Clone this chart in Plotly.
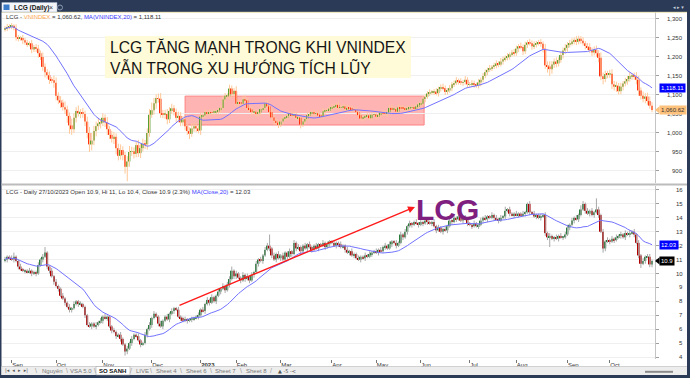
import pandas as pd
import plotly.graph_objects as go

W, H = 690, 378
FONT = "Liberation Sans, Arial, sans-serif"

# ---------------- data ----------------
month_tick_idx = [3, 23, 44, 66, 88, 104, 124, 147, 167, 187, 209, 230, 253, 272]
month_tick_txt = ["Sep", "Oct", "Nov", "Dec", "<b>2023</b>", "Feb", "Mar", "Apr",
                  "May", "Jun", "Jul", "Aug", "Sep", "Oct"]

vn_ticks = [900, 950, 1000, 1050, 1100, 1150, 1200, 1250, 1300]
lcg_ticks = [4, 5, 6, 7, 8, 9, 10, 11, 12, 13, 14, 15, 16]

vn_first_open = 1272
vn_close = [
    # Aug 2022
    1275, 1279, 1281,
    # Sep
    1282, 1276, 1252, 1248, 1250, 1244, 1238, 1234, 1236, 1220,
    1226, 1222, 1210, 1200, 1174, 1160, 1152, 1140, 1139, 1132,
    # Oct
    1098, 1086, 1080, 1068, 1062, 1045, 1020, 1010, 1040, 1058,
    1052, 1055, 1050, 1030, 1000, 970, 980, 1005, 1018, 1025, 1027,
    # Nov
    1040, 1028, 1010, 995, 985, 990, 960, 940, 955, 942, 911,
    925, 950, 952, 945, 968, 947, 960, 972, 970, 1000, 1048,
    # Dec
    1060, 1078, 1092, 1090, 1052, 1048, 1050, 1036, 1058, 1065, 1055,
    1040, 1045, 1028, 1036, 1018, 1005, 998, 1012, 1018, 1012, 1007,
    # Jan 2023
    1043, 1046, 1055, 1051, 1054, 1053, 1056, 1056,
    1060, 1066, 1088, 1098, 1098, 1117, 1102, 1111,
    # Feb
    1077, 1080, 1077, 1089, 1086, 1066, 1062, 1055, 1056, 1050,
    1054, 1063, 1066, 1078, 1070, 1055, 1041, 1032, 1027, 1022,
    # Mar
    1030, 1038, 1040, 1045, 1051, 1045, 1049, 1040, 1040, 1022, 1030, 1037,
    1047, 1050, 1053, 1050, 1052, 1046, 1044, 1057, 1059, 1060, 1064,
    # Apr
    1067, 1070, 1074, 1066, 1068, 1070, 1063, 1066, 1064, 1062,
    1061, 1055, 1047, 1038, 1040, 1045, 1046, 1039, 1048, 1049,
    # May
    1043, 1047, 1053, 1052, 1050, 1055, 1066, 1063, 1063, 1056,
    1067, 1066, 1065, 1062, 1065, 1066, 1068, 1065, 1070, 1075,
    # Jun
    1077, 1090, 1095, 1104, 1107, 1108, 1109, 1105, 1116, 1120, 1118,
    1108, 1112, 1118, 1128, 1131, 1138, 1136, 1132, 1134, 1140, 1128,
    # Jul
    1128, 1131, 1128, 1125, 1133, 1140, 1150, 1160, 1166, 1170, 1174,
    1178, 1183, 1180, 1188, 1194, 1198, 1202, 1207, 1212, 1210,
    # Aug
    1222, 1228, 1226, 1215, 1232, 1238, 1236, 1228, 1233, 1236, 1238, 1235,
    1222, 1178, 1175, 1168, 1180, 1188, 1183, 1192, 1205, 1217, 1224,
    # Sep
    1232, 1236, 1241, 1245, 1240, 1248, 1243, 1236, 1229, 1226,
    1218, 1212, 1219, 1210, 1198, 1149, 1142, 1155, 1154,
    # Oct
    1156, 1128, 1122, 1124, 1110, 1122, 1130, 1136, 1142, 1150,
    1150, 1148, 1140, 1112, 1098, 1090, 1096, 1084, 1072, 1060.62,
]
vn_wick_up = [
    6, 8, 5, 7, 4, 10, 6, 5, 8, 6,
    7, 5, 9, 6, 8, 10, 7, 12, 9, 8,
    10, 7, 12, 14, 9, 11, 8, 15, 10, 9,
    18, 12, 10, 14, 8, 11, 9, 13, 16, 20,
    14, 12, 15, 10, 12, 9, 14, 8, 11, 13,
    9, 12, 15, 10, 8, 14, 16, 12, 10, 9,
    14, 11, 13, 10, 12, 15, 20, 14, 10, 12,
    15, 9, 11, 13, 10, 12, 8, 9, 11, 10,
    9, 12, 8, 10, 14, 9, 8, 7, 10, 6,
    7, 5, 8, 6, 7, 5, 6, 8, 9, 7,
    6, 10, 8, 7, 12, 9, 6, 8, 10, 7,
    6, 8, 5, 7, 6, 9, 8, 6, 10, 7,
    9, 8, 6, 7, 8, 10, 6, 7, 5, 8,
    6, 7, 9, 5, 8, 6, 7, 5, 6, 8,
    5, 7, 6, 8, 5, 6, 7, 9, 6, 5,
    8, 6, 7, 5, 9, 6, 8, 5, 7, 6,
    6, 8, 5, 7, 6, 5, 8, 6, 7, 5,
    6, 8, 5, 7, 9, 6, 5, 8, 6, 7,
    5, 7, 6, 8, 5, 7, 6, 9, 8, 7,
    6, 8, 5, 7, 9, 6, 8, 10, 7, 6,
    8, 6, 7, 9, 5, 8, 6, 10, 7, 6,
    8, 7, 5, 9, 6, 8, 7, 6, 9, 5,
    7, 8, 6, 9, 7, 6, 8, 5, 7, 9,
    8, 6, 10, 7, 8, 6, 9, 7, 8, 6,
    7, 9, 6, 12, 10, 14, 9, 8, 11, 7,
    9, 8, 10, 7, 9, 8, 6, 10, 8, 7,
    9, 6, 8, 10, 7, 9, 11, 8, 14, 10,
    9, 8, 10, 12, 9, 11, 8, 10, 7, 9,
    8, 10, 7, 9, 12, 10, 8, 11, 9, 10,
    12, 9,
]
vn_wick_dn = [
    5, 7, 6, 8, 6, 9, 7, 5, 10, 6,
    8, 6, 10, 7, 9, 12, 8, 10, 14, 9,
    11, 8, 13, 12, 10, 14, 9, 12, 18, 22,
    15, 10, 12, 9, 13, 10, 12, 14, 20, 16,
    12, 14, 10, 13, 9, 12, 15, 11, 10, 14,
    16, 12, 10, 14, 18, 38, 14, 10, 12, 9,
    10, 13, 9, 12, 14, 10, 8, 12, 14, 10,
    12, 9, 11, 13, 10, 8, 9, 11, 12, 10,
    9, 11, 10, 14, 8, 9, 10, 8, 12, 6,
    7, 6, 5, 7, 6, 8, 5, 7, 6, 8,
    7, 9, 10, 8, 6, 9, 7, 6, 8, 7,
    6, 9, 7, 8, 6, 7, 5, 8, 7, 9,
    8, 10, 7, 9, 6, 8, 7, 6, 8, 5,
    7, 6, 8, 10, 6, 7, 5, 8, 6, 7,
    6, 5, 7, 6, 8, 5, 6, 7, 5, 8,
    6, 7, 5, 8, 6, 7, 9, 6, 8, 7,
    5, 7, 6, 8, 5, 7, 6, 8, 5, 6,
    7, 5, 8, 6, 7, 5, 6, 7, 8, 5,
    7, 6, 8, 5, 7, 6, 8, 6, 7, 9,
    5, 7, 6, 8, 6, 9, 7, 6, 8, 7,
    6, 8, 7, 5, 9, 6, 8, 7, 10, 6,
    7, 9, 6, 8, 10, 7, 6, 8, 5, 7,
    6, 8, 7, 5, 8, 6, 7, 9, 6, 8,
    7, 9, 6, 10, 7, 8, 6, 9, 7, 8,
    6, 8, 10, 9, 16, 18, 12, 9, 10, 8,
    7, 9, 8, 10, 7, 6, 8, 9, 7, 8,
    6, 9, 8, 7, 10, 8, 9, 12, 10, 14,
    8, 10, 9, 12, 10, 14, 9, 8, 10, 7,
    9, 7, 10, 8, 12, 14, 10, 9, 12, 10,
    8, 6,
]

lcg_first_open = 10.9
lcg_close = [
    # Aug 2022
    11.0, 11.2, 11.1,
    # Sep
    11.0, 11.2, 10.9, 10.5, 10.3, 10.2, 10.2, 10.1, 10.2, 10.0,
    10.1, 10.0, 10.6, 11.0, 11.2, 11.5, 10.5, 10.2, 9.8, 9.4,
    # Oct
    9.1, 8.9, 8.4, 8.2, 7.9, 7.6, 7.4, 7.5, 7.8, 8.0,
    7.8, 7.8, 7.6, 7.0, 6.3, 6.2, 6.4, 6.2, 6.3, 6.5, 6.6,
    # Nov
    6.9, 6.8, 6.9, 6.2, 5.9, 5.8, 5.5, 5.6, 5.3, 4.9, 4.4,
    4.6, 5.0, 5.3, 5.6, 5.5, 5.2, 4.9, 5.0, 5.6, 6.0, 6.3,
    # Dec
    6.8, 7.1, 6.9, 6.4, 6.2, 6.6, 6.9, 6.7, 7.1, 7.3, 7.5,
    7.4, 6.9, 6.8, 6.6, 6.7, 6.6, 6.7, 6.7, 6.8, 6.9, 7.0,
    # Jan 2023
    7.4, 7.3, 7.8, 8.1, 7.9, 8.3, 8.0, 8.4,
    8.7, 8.9, 9.1, 8.8, 9.2, 9.6, 10.2, 9.8,
    # Feb
    10.0, 9.7, 9.5, 9.9, 9.6, 9.8, 9.5, 9.9, 10.1, 10.7,
    11.0, 10.9, 11.3, 11.7, 12.0, 11.8, 11.3, 11.0, 11.4, 11.1,
    # Mar
    11.3, 11.0, 11.5, 11.2, 11.6, 11.4, 12.2, 11.8, 11.9, 11.6, 12.0, 11.8,
    12.1, 11.9, 11.7, 12.0, 11.8, 12.1, 12.0, 12.2, 11.9, 12.1, 12.3,
    # Apr
    12.2, 12.0, 12.2, 12.1, 11.9, 12.0, 11.7, 11.5, 11.6, 11.3,
    11.4, 11.1, 11.0, 11.2, 11.1, 11.3, 11.2, 11.4, 11.5, 11.6,
    # May
    11.5, 11.7, 11.6, 11.9, 12.0, 11.8, 12.1, 12.3, 12.2, 12.0,
    12.2, 12.8, 12.6, 13.0, 13.4, 13.6, 13.5, 13.7, 13.6, 13.5,
    # Jun
    13.7, 13.6, 13.8, 13.7, 13.6, 13.7, 13.4, 13.1, 13.3, 13.0, 13.2,
    13.1, 13.4, 13.8, 13.7, 14.0, 13.9, 14.1, 13.8, 14.0, 13.9, 13.6,
    # Jul
    13.5, 13.4, 13.6, 13.4, 13.5, 13.8, 14.0, 13.9, 14.1, 14.0, 14.2,
    14.0, 13.9, 13.8, 14.0, 14.1, 14.5, 14.6, 14.3, 14.2, 14.3,
    # Aug
    14.2, 14.3, 14.2, 14.3, 14.4, 15.0, 14.4, 14.3, 14.1, 14.2, 14.0, 14.1,
    14.2, 12.9, 12.6, 12.7, 12.5, 12.6, 12.5, 12.7, 12.6, 12.6, 12.8,
    # Sep
    13.3, 13.5, 13.8, 14.0, 13.9, 14.2, 14.6, 15.0, 14.5, 14.3,
    14.5, 14.2, 14.4, 14.6, 14.2, 13.0, 11.8, 12.3, 12.4,
    # Oct
    12.3, 12.5, 12.4, 12.6, 12.7, 12.8, 12.6, 12.9, 12.8, 12.9,
    13.0, 12.8, 12.2, 11.3, 10.7, 10.9, 11.2, 11.2, 10.65, 10.9,
]
# wick extents in tenths of a price unit
lcg_wick_up = [
    2, 1, 1, 2, 3, 1, 1, 2, 1, 1,
    1, 2, 1, 1, 1, 2, 1, 2, 4, 1,
    1, 2, 1, 2, 1, 1, 2, 1, 1, 2,
    1, 2, 1, 1, 2, 1, 1, 1, 2, 1,
    1, 2, 1, 2, 1, 2, 1, 1, 1, 2,
    1, 1, 2, 1, 1, 2, 1, 2, 1, 1,
    2, 1, 1, 2, 1, 2, 1, 2, 1, 1,
    2, 1, 1, 2, 1, 2, 1, 1, 2, 1,
    1, 2, 1, 1, 2, 1, 1, 2, 1, 2,
    1, 2, 1, 2, 1, 1, 2, 1, 2, 1,
    2, 2, 3, 1, 2, 1, 1, 2, 1, 2,
    1, 2, 1, 2, 1, 2, 1, 2, 2, 8,
    1, 2, 1, 2, 1, 2, 1, 1, 2, 1,
    2, 1, 2, 1, 1, 2, 1, 2, 1, 1,
    2, 1, 1, 2, 1, 2, 1, 1, 2, 1,
    1, 2, 1, 1, 2, 1, 2, 1, 1, 2,
    1, 1, 2, 1, 2, 1, 1, 2, 1, 2,
    1, 2, 1, 2, 1, 1, 2, 1, 2, 1,
    2, 1, 2, 1, 1, 2, 1, 2, 1, 1,
    2, 1, 1, 2, 1, 2, 1, 1, 2, 1,
    2, 1, 2, 1, 1, 2, 1, 2, 1, 1,
    1, 2, 1, 1, 2, 1, 2, 1, 1, 2,
    1, 2, 1, 2, 1, 3, 1, 2, 1, 1,
    2, 1, 1, 2, 1, 1, 2, 1, 2, 1,
    1, 2, 1, 2, 1, 2, 1, 1, 2, 1,
    2, 1, 2, 2, 1, 2, 1, 2, 1, 3,
    2, 1, 2, 1, 2, 1, 8, 2, 1, 2,
    1, 2, 1, 2, 1, 2, 1, 2, 1, 2,
    1, 2, 1, 2, 1, 2, 1, 2, 1, 2,
    2, 1,
]
lcg_wick_dn = [
    1, 2, 1, 1, 2, 1, 2, 1, 1, 2,
    1, 1, 2, 1, 2, 1, 1, 2, 1, 2,
    2, 1, 2, 1, 2, 1, 1, 2, 1, 2,
    2, 1, 1, 2, 1, 1, 2, 1, 1, 2,
    1, 2, 1, 1, 2, 1, 2, 1, 2, 1,
    2, 1, 2, 1, 3, 2, 1, 2, 1, 1,
    1, 2, 1, 1, 2, 1, 2, 1, 1, 2,
    1, 2, 1, 1, 2, 1, 2, 1, 1, 2,
    1, 1, 2, 1, 2, 1, 1, 2, 1, 1,
    2, 1, 2, 1, 1, 2, 1, 2, 1, 2,
    1, 2, 1, 2, 2, 1, 2, 1, 2, 1,
    2, 1, 2, 1, 2, 1, 2, 1, 1, 2,
    2, 1, 2, 1, 2, 1, 1, 2, 1, 2,
    1, 2, 1, 2, 1, 1, 2, 1, 2, 1,
    1, 2, 1, 1, 2, 1, 2, 1, 1, 2,
    2, 1, 1, 2, 1, 2, 1, 2, 1, 1,
    2, 1, 2, 1, 1, 2, 1, 1, 2, 1,
    1, 2, 1, 1, 2, 1, 2, 1, 1, 2,
    1, 2, 1, 2, 1, 1, 2, 1, 2, 1,
    2, 1, 2, 1, 2, 1, 1, 2, 1, 2,
    1, 2, 1, 2, 1, 1, 2, 1, 2, 1,
    2, 1, 1, 2, 1, 2, 1, 2, 1, 1,
    2, 1, 2, 1, 1, 2, 1, 2, 1, 2,
    1, 2, 1, 1, 2, 1, 2, 1, 1, 2,
    1, 2, 1, 2, 2, 7, 1, 2, 1, 2,
    1, 2, 1, 1, 2, 1, 2, 1, 2, 1,
    1, 2, 1, 2, 1, 2, 1, 2, 1, 3,
    2, 1, 2, 1, 2, 1, 1, 2, 1, 2,
    1, 2, 1, 2, 1, 2, 3, 1, 2, 1,
    2, 2,
]

# values printed in the chart headers / price tags
vn_last_close, vn_last_ma = 1060.62, 1118.11
lcg_last_close, lcg_last_ma = 10.9, 12.03

sheet_tabs = ["Nguyên", "VSA 5.0", "SO SANH", "LIVE", "Sheet 4", "Sheet 6", "Sheet 7", "Sheet 8"]

N = len(vn_close)
for arr in (vn_wick_up, vn_wick_dn, lcg_close, lcg_wick_up, lcg_wick_dn):
    assert len(arr) == N, len(arr)

# ---------------- derived ----------------
def ohlc(close, first_open, wup, wdn, unit):
    o = [first_open] + close[:-1]
    hi = [max(a, b) + u * unit for a, b, u in zip(o, close, wup)]
    lo = [min(a, b) - d * unit for a, b, d in zip(o, close, wdn)]
    return o, hi, lo

vn_open, vn_high, vn_low = ohlc(vn_close, vn_first_open, vn_wick_up, vn_wick_dn, 1.0)
lcg_open, lcg_high, lcg_low = ohlc(lcg_close, lcg_first_open, lcg_wick_up, lcg_wick_dn, 0.1)
vn_ma = pd.Series(vn_close).rolling(20, min_periods=1).mean().tolist()
lcg_ma = pd.Series(lcg_close).rolling(20, min_periods=1).mean().tolist()
idx = list(range(N))


def candle(o, hi, lo, c, xa, ya, wick_col, up_col, dn_col, min_body):
    xs, ys = [], []
    for i, (h_, l_) in enumerate(zip(hi, lo)):
        xs += [i, i, None]
        ys += [l_, h_, None]
    wick = go.Scatter(x=xs, y=ys, mode="lines", line=dict(color=wick_col, width=1),
                      xaxis=xa, yaxis=ya, hoverinfo="skip", showlegend=False)
    base, hgt, cols = [], [], []
    for a, b in zip(o, c):
        d = abs(b - a)
        hh = max(d, min_body)
        base.append(min(a, b) - (hh - d) / 2)
        hgt.append(hh)
        cols.append(up_col if b >= a else dn_col)
    body = go.Bar(x=idx, y=hgt, base=base, width=0.8,
                  marker=dict(color=cols, line=dict(width=0)),
                  xaxis=xa, yaxis=ya, hoverinfo="skip", showlegend=False)
    return [wick, body]


fig = go.Figure()
for t in candle(vn_open, vn_high, vn_low, vn_close, "x", "y",
                "#ffc898", "#58a032", "#ff3010", 1.6):
    fig.add_trace(t)
fig.add_trace(go.Scatter(x=idx, y=vn_ma, mode="lines", line=dict(color="#7272ff", width=1),
                         xaxis="x", yaxis="y", hoverinfo="skip", showlegend=False))
for t in candle(lcg_open, lcg_high, lcg_low, lcg_close, "x2", "y2",
                "#a8a8a8", "#2a7d3c", "#b00000", 0.07):
    fig.add_trace(t)
fig.add_trace(go.Scatter(x=idx, y=lcg_ma, mode="lines", line=dict(color="#7272ff", width=1),
                         xaxis="x2", yaxis="y2", hoverinfo="skip", showlegend=False))

# ---------------- layout helpers ----------------
def px(x):
    return x / W


def py(y):
    return 1 - y / H


XDOM = [px(2), px(655)]
XRNG = [-1.349, 292.35]
NAVY = "#2b3b57"

shapes = []
annos = []

# accumulation zone box
shapes.append(dict(type="rect", xref="x", yref="y", x0=81, x1=188.5, y0=1021, y1=1097,
                   fillcolor="#ffb4b4", line=dict(color="#ff8080", width=1), layer="below"))

# note box
shapes.append(dict(type="rect", xref="paper", yref="paper", x0=px(105), x1=px(411),
                   y0=py(78), y1=py(36), fillcolor="#fffbd8", line=dict(width=0), layer="above"))
annos.append(dict(xref="paper", yref="paper", x=px(108), y=py(47), xanchor="left", yanchor="middle",
                  text="LCG TĂNG MẠNH TRONG KHI VNINDEX", showarrow=False,
                  font=dict(family=FONT, size=15.7, color="#151515")))
annos.append(dict(xref="paper", yref="paper", x=px(108), y=py(67.5), xanchor="left", yanchor="middle",
                  text="VẪN TRONG XU HƯỚNG TÍCH LŨY", showarrow=False,
                  font=dict(family=FONT, size=15.7, color="#151515")))

# trend arrow + LCG label in lower panel
annos.append(dict(xref="x2", yref="y2", axref="x2", ayref="y2", x=184.4, y=14.78, ax=77.8, ay=7.67,
                  text="", showarrow=True, arrowhead=2, arrowsize=1, arrowwidth=1.4,
                  arrowcolor="#ff1a1a"))
annos.append(dict(xref="paper", yref="paper", x=px(447), y=py(209), xanchor="center", yanchor="middle",
                  text="<b>LCG</b>", showarrow=False,
                  font=dict(family="Liberation Sans Narrow, Arial Narrow, sans-serif", size=30, color="#7f1f80")))

# headers
annos.append(dict(xref="paper", yref="paper", x=px(4), y=py(17), xanchor="left", yanchor="middle",
                  showarrow=False, font=dict(family=FONT, size=6, color="#333333"),
                  text=('LCG - <span style="color:#ffa850">VNINDEX</span> = '
                        f'{vn_last_close:,.2f}, <span style="color:#4040ff">MA(VNINDEX,20)</span> = '
                        f'{vn_last_ma:,.2f}')))
annos.append(dict(xref="paper", yref="paper", x=px(4), y=py(192), xanchor="left", yanchor="middle",
                  showarrow=False, font=dict(family=FONT, size=6, color="#333333"),
                  text=('LCG - Daily 27/10/2023 Open 10.9, Hi 11, Lo 10.4, Close '
                        f'{lcg_last_close} (2.3%) <span style="color:#4040ff">MA(Close,20)</span> = '
                        f'{lcg_last_ma:.2f}')))

# right-side tick labels
for v in vn_ticks:
    annos.append(dict(xref="paper", yref="y", x=px(685), y=v, xanchor="right", yanchor="middle",
                      text=f"{v:,}", showarrow=False, font=dict(family=FONT, size=6, color="#333333")))
for v in lcg_ticks:
    annos.append(dict(xref="paper", yref="y2", x=px(685), y=v, xanchor="right", yanchor="middle",
                      text=f"{v}", showarrow=False, font=dict(family=FONT, size=6, color="#333333")))

# price tags
def tag(yref, yval, text, bg, fg, pointer, half):
    if pointer:
        shapes.append(dict(type="path", xref="paper", yref=yref,
                           path=f"M {px(655)} {yval} L {px(659.5)} {yval + half} L {px(659.5)} {yval - half} Z",
                           fillcolor=bg, line=dict(width=0)))
    annos.append(dict(xref="paper", yref=yref, x=px(659), y=yval, xanchor="left", yanchor="middle",
                      text=text, showarrow=False, bgcolor=bg, borderpad=1,
                      font=dict(family=FONT, size=6, color=fg)))

tag("y", vn_last_ma, f"{vn_last_ma:,.2f}", "#0000ff", "#ffffff", False, 0)
tag("y", vn_last_close, f"{vn_last_close:,.2f}", "#ffc27c", "#333333", True, 9.5)
tag("y2", lcg_last_ma, f"{lcg_last_ma:.2f}", "#0000ff", "#ffffff", False, 0)
tag("y2", lcg_last_close, f"{lcg_last_close}", "#000000", "#ffffff", True, 0.26)

# window chrome: top bar and tab
shapes.append(dict(type="rect", xref="paper", yref="paper", x0=0, x1=1, y0=py(12), y1=1,
                   fillcolor=NAVY, line=dict(width=0), layer="above"))
shapes.append(dict(type="line", xref="paper", yref="paper", x0=0, x1=1, y0=py(12.3), y1=py(12.3),
                   line=dict(color="#eadfb4", width=1)))
shapes.append(dict(type="rect", xref="paper", yref="paper", x0=px(1.5), x1=px(57), y0=py(12), y1=py(2.5),
                   fillcolor="#f3f5f9", line=dict(color="#9fb0c8", width=0.5), layer="above"))
shapes.append(dict(type="rect", xref="paper", yref="paper", x0=px(3.5), x1=px(9.5), y0=py(10), y1=py(4.5),
                   fillcolor="#3d7cc9", line=dict(width=0), layer="above"))
annos.append(dict(xref="paper", yref="paper", x=px(11.5), y=py(7.5), xanchor="left", yanchor="middle",
                  text="<b>LCG (Daily)</b>", showarrow=False, font=dict(family=FONT, size=6.5, color="#111111")))
annos.append(dict(xref="paper", yref="paper", x=px(51), y=py(7.5), xanchor="center", yanchor="middle",
                  text="×", showarrow=False, font=dict(family=FONT, size=7, color="#333333")))
shapes.append(dict(type="circle", xref="paper", yref="paper", x0=px(57.5), x1=px(62.5), y0=py(10), y1=py(5),
                   line=dict(color="#8c9ab2", width=1), layer="above"))
annos.append(dict(xref="paper", yref="paper", x=px(686), y=py(6.5), xanchor="right", yanchor="middle",
                  text="◂ ▸ ▾", showarrow=False, font=dict(family="DejaVu Sans", size=5, color="#c8d0de")))

# borders
shapes.append(dict(type="rect", xref="paper", yref="paper", x0=0, x1=px(1.5), y0=0, y1=1,
                   fillcolor=NAVY, line=dict(width=0), layer="above"))
shapes.append(dict(type="rect", xref="paper", yref="paper", x0=px(687), x1=1, y0=0, y1=1,
                   fillcolor=NAVY, line=dict(width=0), layer="above"))

# separator between panels
shapes.append(dict(type="line", xref="paper", yref="paper", x0=px(1.5), x1=px(687), y0=py(184.5), y1=py(184.5),
                   line=dict(color="#bcbcbc", width=2)))

# bottom sheet strip
shapes.append(dict(type="rect", xref="paper", yref="paper", x0=px(1.5), x1=px(687), y0=py(375), y1=py(366.5),
                   fillcolor="#ededed", line=dict(width=0), layer="above"))
shapes.append(dict(type="line", xref="paper", yref="paper", x0=px(1.5), x1=px(687), y0=py(366.5), y1=py(366.5),
                   line=dict(color="#b8b8b8", width=0.6)))
shapes.append(dict(type="rect", xref="paper", yref="paper", x0=0, x1=1, y0=0, y1=py(375),
                   fillcolor=NAVY, line=dict(width=0), layer="above"))
shapes.append(dict(type="rect", xref="paper", yref="paper", x0=px(96), x1=px(130), y0=py(375), y1=py(366.5),
                   fillcolor="#ffffff", line=dict(color="#9a9a9a", width=0.5), layer="above"))
annos.append(dict(xref="paper", yref="paper", x=px(3), y=py(370.8), xanchor="left", yanchor="middle",
                  text="|◂  ◂  ▸  ▸|", showarrow=False, font=dict(family="DejaVu Sans", size=5, color="#555555")))
tab_x = [52, 81, 113, 142, 166, 196, 226, 256]
for name, xc in zip(sheet_tabs, tab_x):
    bold = name == "SO SANH"
    annos.append(dict(xref="paper", yref="paper", x=px(xc), y=py(370.8), xanchor="center", yanchor="middle",
                      text=f"<b>{name}</b>" if bold else name, showarrow=False,
                      font=dict(family=FONT, size=6, color="#111111" if bold else "#7a7a7a")))
for xs_, ch in zip([36, 67, 95, 131, 151, 181, 211, 241, 271], "\\\\\\/\\\\\\\\/"):
    annos.append(dict(xref="paper", yref="paper", x=px(xs_), y=py(370.8), xanchor="center", yanchor="middle",
                      text=ch, showarrow=False, font=dict(family=FONT, size=7, color="#9a9a9a")))
annos.append(dict(xref="paper", yref="paper", x=px(276), y=py(370.8), xanchor="left", yanchor="middle",
                  text="▲ ‑5 ‑<", showarrow=False, font=dict(family="DejaVu Sans", size=5, color="#555555")))
shapes.append(dict(type="line", xref="paper", yref="paper", x0=px(645), x1=px(673), y0=py(371.8), y1=py(371.8),
                   line=dict(color="#8a8a8a", width=2)))

fig.update_layout(
    width=W, height=H, autosize=False,
    margin=dict(l=0, r=0, t=0, b=0),
    paper_bgcolor="#ffffff", plot_bgcolor="#ffffff",
    showlegend=False, barmode="overlay",
    xaxis=dict(domain=XDOM, range=XRNG, anchor="y", showticklabels=False, ticks="",
               showgrid=False, zeroline=False, showline=False, fixedrange=True),
    xaxis2=dict(domain=XDOM, range=XRNG, anchor="y2", tickvals=month_tick_idx, ticktext=month_tick_txt,
                ticks="outside", ticklen=3, tickcolor="#777777", tickwidth=1,
                ticklabelposition="outside right",
                tickfont=dict(family=FONT, size=6, color="#333333"),
                showgrid=False, zeroline=False, showline=False, fixedrange=True),
    yaxis=dict(domain=[py(183), py(12)], range=[868.4, 1318.4], anchor="x", side="right",
               tickvals=vn_ticks, showticklabels=False, ticks="outside", ticklen=3, tickcolor="#a0a0a0",
               showgrid=True, gridcolor="#efefef", gridwidth=1, zeroline=False,
               showline=True, linecolor="#c4c4c4", linewidth=1, fixedrange=True),
    yaxis2=dict(domain=[py(359), py(186)], range=[3.856, 16.287], anchor="x2", side="right",
                tickvals=lcg_ticks, showticklabels=False, ticks="outside", ticklen=3, tickcolor="#a0a0a0",
                showgrid=True, gridcolor="#efefef", gridwidth=1, zeroline=False,
                showline=True, linecolor="#c4c4c4", linewidth=1, fixedrange=True),
    shapes=shapes,
    annotations=annos,
)

fig.write_html("out.html", config={"displayModeBar": False})
